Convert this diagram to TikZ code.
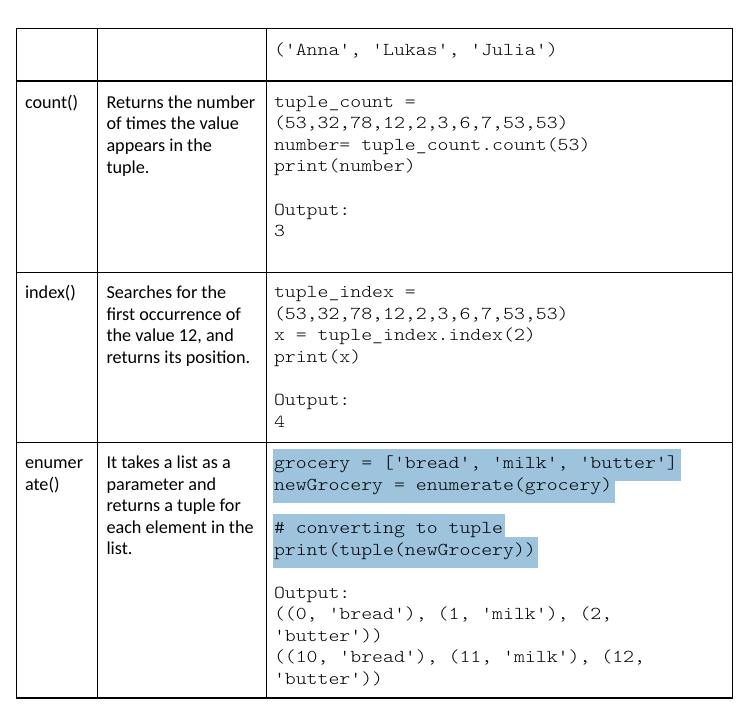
\documentclass[tikz,border=0pt]{standalone}
\usepackage{fontspec}
\setmainfont{Carlito}
\setmonofont{Latin Modern Mono Light}[FakeStretch=1.142]
\definecolor{hl}{RGB}{157,195,221}
\begin{document}
\begin{tikzpicture}[x=1pt,y=-1pt,
  desc/.style={anchor=base west,inner sep=0pt,outer sep=0pt,font=\fontsize{18.2}{21.6}\selectfont},
  code/.style={anchor=base west,inner sep=0pt,outer sep=0pt,font=\fontsize{18.2}{21.6}\ttfamily},
  gridline/.style={line width=1.1pt,black},
  hlbox/.style={fill=hl,draw=none}]
\useasboundingbox (0,0) rectangle (749,713);
% highlights
\fill[hlbox] (272.7,449.3) rectangle (680.7,480.7);
\fill[hlbox] (272.7,480.7) rectangle (615,502.7);
\fill[hlbox] (272.7,514) rectangle (505,536.7);
\fill[hlbox] (272.7,536.7) rectangle (537.7,567.5);
% grid
\foreach \yy in {28.3,81,272.3,442.7,698}
  \draw[gridline] (16,\yy) -- (733,\yy);
\foreach \xx in {16.7,97.3,266.7,732.3}
  \draw[gridline] (\xx,27.8) -- (\xx,698.5);
% header row
\node[code] (h) at (274,55) {('Anna', 'Lukas', 'Julia')};
% count row
\node[desc] (c1) at (25,108) {count()};
\node[desc] (c2a) at (106.5,108) {Returns the number};
\node[desc] (c2b) at (106.5,129.7) {of times the value};
\node[desc] (c2c) at (106.5,151.3) {appears in the};
\node[desc] (c2d) at (106.5,173) {tuple.};
\node[code] (c3a) at (274,107) {tuple\_count =};
\node[code] (c3b) at (274,128.6) {(53,32,78,12,2,3,6,7,53,53)};
\node[code] (c3c) at (274,150.2) {number= tuple\_count.count(53)};
\node[code] (c3d) at (274,171.8) {print(number)};
\node[code] (c3e) at (274,215) {Output:};
\node[code] (c3f) at (274,236.6) {3};
% index row
\node[desc] (i1) at (25,298.5) {index()};
\node[desc] (i2a) at (106.5,298.5) {Searches for the};
\node[desc] (i2b) at (106.5,320.1) {first occurrence of};
\node[desc] (i2c) at (106.5,341.7) {the value 12, and};
\node[desc] (i2d) at (106.5,363.3) {returns its position.};
\node[code] (i3a) at (274,297.5) {tuple\_index =};
\node[code] (i3b) at (274,319.1) {(53,32,78,12,2,3,6,7,53,53)};
\node[code] (i3c) at (274,340.7) {x = tuple\_index.index(2)};
\node[code] (i3d) at (274,362.3) {print(x)};
\node[code] (i3e) at (274,405.5) {Output:};
\node[code] (i3f) at (274,427.1) {4};
% enumerate row
\node[desc] (e1a) at (25,468.5) {enumer};
\node[desc] (e1b) at (25,490) {ate()};
\node[desc] (e2a) at (106.5,468.5) {It takes a list as a};
\node[desc] (e2b) at (106.5,490) {parameter and};
\node[desc] (e2c) at (106.5,511.6) {returns a tuple for};
\node[desc] (e2d) at (106.5,533.2) {each element in the};
\node[desc] (e2e) at (106.5,554.8) {list.};
\node[code] (e3a) at (274,468.3) {grocery = ['bread', 'milk', 'butter']};
\node[code] (e3b) at (274,490) {newGrocery = enumerate(grocery)};
\node[code] (e3c) at (274,533.3) {\# converting to tuple};
\node[code] (e3d) at (274,555) {print(tuple(newGrocery))};
\node[code] (e3e) at (274,598.3) {Output:};
\node[code] (e3f) at (274,619.8) {((0, 'bread'), (1, 'milk'), (2,};
\node[code] (e3g) at (274,641.3) {'butter'))};
\node[code] (e3h) at (274,662.8) {((10, 'bread'), (11, 'milk'), (12,};
\node[code] (e3i) at (274,684.3) {'butter'))};
\end{tikzpicture}
\end{document}
